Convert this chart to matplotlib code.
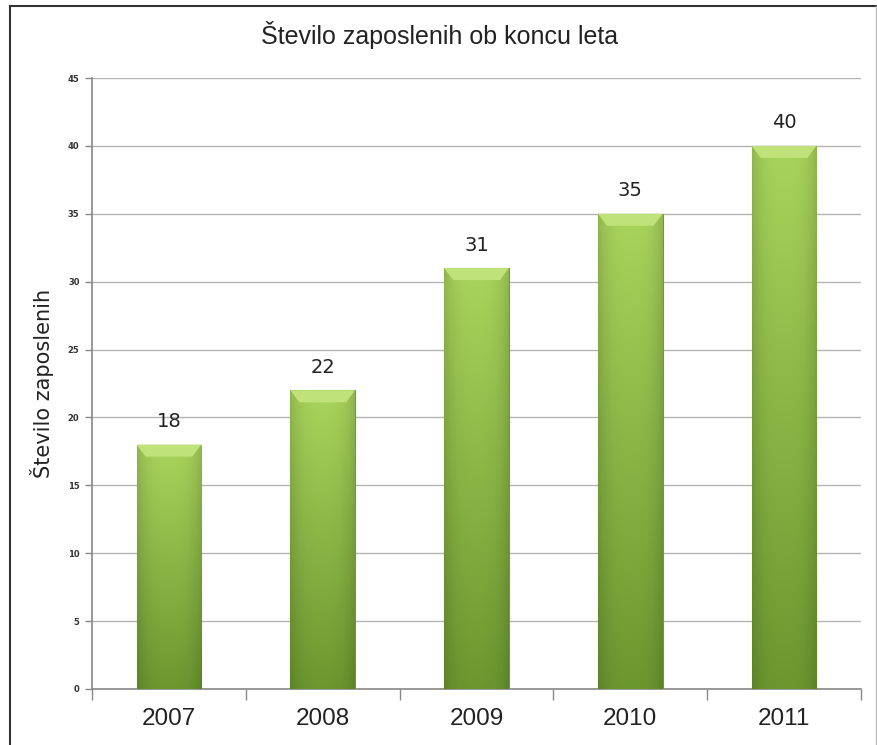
import numpy as np
import matplotlib
matplotlib.use("Agg")
import matplotlib.pyplot as plt
from matplotlib.patches import Polygon
from matplotlib.lines import Line2D
from matplotlib.colors import to_rgb

# Podatki
leta = ["2007", "2008", "2009", "2010", "2011"]
zaposleni = [18, 22, 31, 35, 40]
y_ticks = [0, 5, 10, 15, 20, 25, 30, 35, 40, 45]

naslov = "Število zaposlenih ob koncu leta"
y_oznaka = "Število zaposlenih"

W, H = 878, 745
fig = plt.figure(figsize=(W / 100, H / 100), dpi=100)
ax = fig.add_axes([92 / W, 1 - 689 / H, (861 - 92) / W, (689 - 78) / H])

x = np.arange(len(leta))
sirina = 0.42
bars = ax.bar(x, zaposleni, width=sirina, color="#8cbf45", edgecolor="#6e9a32",
              linewidth=0.8, zorder=2)

# gradient v stolpcih
zgoraj = np.array(to_rgb("#a9d45c"))
spodaj = np.array(to_rgb("#6b972f"))
ny, nx = 200, 60
t = np.linspace(0, 1, ny)[:, None, None]          # 0 zgoraj, 1 spodaj
u = np.linspace(-1, 1, nx)[None, :, None]
img = zgoraj * (1 - t) + spodaj * t
img = img * (1 - 0.14 * np.abs(u) ** 3)
img = np.clip(img, 0, 1)

px_y = (689 - 78) / 45.0         # piksli na enoto
px_x = (861 - 92) / len(leta)
for b in bars:
    x0, h, w = b.get_x(), b.get_height(), b.get_width()
    im = ax.imshow(img, extent=(x0, x0 + w, 0, h), aspect="auto", zorder=3)
    im.set_clip_path(b)
    dy = 12 / px_y
    dx = 9 / px_x
    bevel = Polygon([(x0, h), (x0 + w, h), (x0 + w - dx, h - dy), (x0 + dx, h - dy)],
                    closed=True, facecolor="#bfe27a", edgecolor="none", zorder=4)
    ax.add_patch(bevel)
    ax.text(x0 + w / 2, h + 1.0, str(int(h)), ha="center", va="bottom",
            fontsize=14, color="#222222", family="DejaVu Sans")

ax.set_xlim(-0.5, len(leta) - 0.5)
ax.set_ylim(0, 45)
ax.set_yticks(y_ticks)
ax.set_yticklabels([str(v) for v in y_ticks], fontsize=6, fontweight="bold", color="#333333")
ax.set_xticks(x)
ax.set_xticklabels(leta, fontsize=17.5, color="#222222", family=["Liberation Sans", "DejaVu Sans"])
ax.tick_params(axis="x", length=0, pad=14)
ax.set_xticks(np.arange(len(leta) + 1) - 0.5, minor=True)
ax.tick_params(axis="x", which="minor", length=8, color="#888888", width=1)
ax.tick_params(axis="y", length=5, color="#888888", width=1, pad=4)

ax.grid(axis="y", color="#b5b5b5", linewidth=1, zorder=0)
ax.set_axisbelow(True)
for s in ["top", "right"]:
    ax.spines[s].set_visible(False)
for s in ["left", "bottom"]:
    ax.spines[s].set_color("#888888")
    ax.spines[s].set_linewidth(1.2)

ax.set_ylabel(y_oznaka, fontsize=15, color="#222222", labelpad=10, family="DejaVu Sans")

fig.text(440 / W, 1 - 35 / H, naslov, ha="center", va="center",
         fontsize=18, color="#222222", family=["Liberation Sans Narrow", "Liberation Sans", "DejaVu Sans"])

# okvir
fig.add_artist(Line2D([10 / W, 10 / W], [0, 1 - 6 / H], color="#333333", lw=1.5))
fig.add_artist(Line2D([10 / W, 876 / W], [1 - 6 / H, 1 - 6 / H], color="#333333", lw=1.5))
fig.add_artist(Line2D([876 / W, 876 / W], [0, 1 - 6 / H], color="#bbbbbb", lw=1))

fig.savefig("out.png", dpi=100)
